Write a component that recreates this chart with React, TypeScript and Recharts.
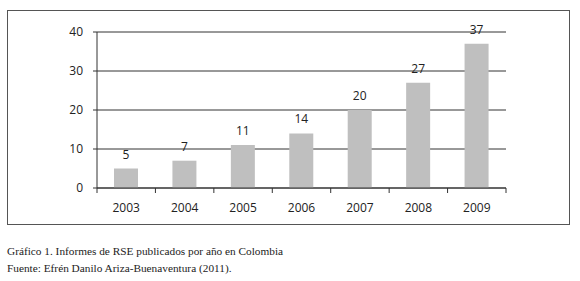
import React from 'react';
import { BarChart, Bar, XAxis, YAxis, CartesianGrid, LabelList } from 'recharts';

const years = ['2003', '2004', '2005', '2006', '2007', '2008', '2009'];
const reports = [5, 7, 11, 14, 20, 27, 37];
const yTicks = [0, 10, 20, 30, 40];

const data = years.map((year, i) => ({ year, value: reports[i] }));

const CHART_W = 580;
const CHART_H = 230;
const MARGIN = { top: 32, right: 74, bottom: 0, left: 0 };
const Y_WIDTH = 97;
const BAND = (CHART_W - MARGIN.left - MARGIN.right - Y_WIDTH) / years.length;

// year label centred on the bar, small tick marks on the category boundaries
const YearTick = (props: any) => {
  const { x, y, payload, index } = props;
  return (
    <g>
      {index === 0 && <line x1={x - BAND / 2} y1={y} x2={x - BAND / 2} y2={y + 5} stroke="#333" />}
      <line x1={x + BAND / 2} y1={y} x2={x + BAND / 2} y2={y + 5} stroke="#333" />
      <text x={x} y={y + 24} textAnchor="middle" fontSize={12} fill="#222" fontFamily="'Open Sans', sans-serif">
        {payload.value}
      </text>
    </g>
  );
};

export default function App() {
  return (
    <div style={{ position: 'absolute', left: 0, top: 0, width: 580, height: 281, background: '#fff' }}>
      <div
        style={{
          position: 'absolute',
          left: 7,
          top: 10,
          width: 561,
          height: 213,
          border: '1px solid #555',
        }}
      />
      <div style={{ position: 'absolute', left: 0, top: 0 }}>
        <BarChart width={CHART_W} height={CHART_H} data={data} margin={MARGIN}>
          <CartesianGrid vertical={false} stroke="#333" />
          <XAxis
            dataKey="year"
            height={CHART_H - 188}
            axisLine={{ stroke: '#333' }}
            tickLine={false}
            tickSize={0}
            tickMargin={0}
            tick={<YearTick />}
            interval={0}
          />
          <YAxis
            width={Y_WIDTH}
            domain={[0, 40]}
            ticks={yTicks}
            axisLine={{ stroke: '#333' }}
            tickLine={{ stroke: '#333' }}
            tickSize={4}
            tickMargin={10}
            tick={{ fontSize: 12, fill: '#222', fontFamily: "'Open Sans', sans-serif" }}
          />
          <Bar dataKey="value" fill="#bfbfbf" barSize={24} isAnimationActive={false}>
            <LabelList
              dataKey="value"
              position="top"
              offset={10}
              fontSize={12}
              fill="#222"
              fontFamily="'Open Sans', sans-serif"
            />
          </Bar>
        </BarChart>
      </div>
      <div
        style={{
          position: 'absolute',
          left: 7,
          top: 243,
          fontFamily: "'Liberation Serif', serif",
          fontSize: 11.3,
          lineHeight: '17px',
          color: '#222',
        }}
      >
        <div>Gráfico 1. Informes de RSE publicados por año en Colombia</div>
        <div>Fuente: Efrén Danilo Ariza-Buenaventura (2011).</div>
      </div>
    </div>
  );
}
